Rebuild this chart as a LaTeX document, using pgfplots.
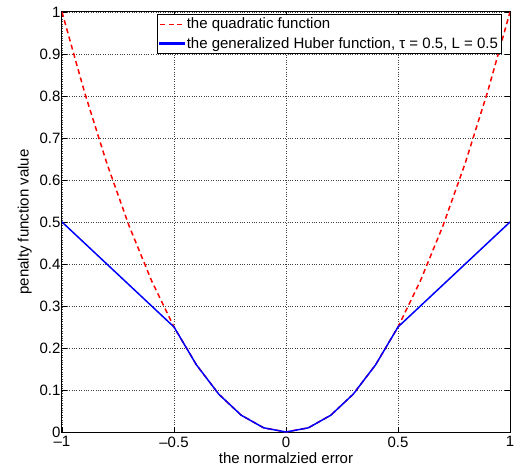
\documentclass[border=0pt]{standalone}
\usepackage{fontspec}
\setmainfont{Liberation Sans}
\usepackage{pgfplots}
\pgfplotsset{compat=1.18}
\definecolor{mred}{RGB}{255,0,0}
\definecolor{mblue}{RGB}{0,0,255}
\begin{document}
\begin{tikzpicture}
\useasboundingbox (-62pt,-34pt) rectangle (454pt,432pt);
\begin{axis}[
    at={(0,0)}, anchor=south west,
    scale only axis,
    width=448pt, height=420pt,
    xmin=-1, xmax=1, ymin=0, ymax=1,
    xtick={-1,-0.5,0,0.5,1},
    xticklabels={\textendash1,\textendash0.5,0,0.5,1},
    ytick={0,0.1,...,1},
    yticklabels={0,0.1,0.2,0.3,0.4,0.5,0.6,0.7,0.8,0.9,1},
    tick align=inside,
    major tick length=5pt,
    tick style={black, line width=0.6pt},
    grid=major,
    major grid style={black!75, dotted, line width=0.6pt},
    axis line style={black, line width=1pt},
    font=\fontsize{15}{17}\selectfont,
    yticklabel style={xshift=2pt},
    xticklabel style={yshift=-1pt},
    xlabel={the normalzied error},
    ylabel={penalty function value},
    xlabel style={yshift=1pt},
    ylabel style={yshift=1pt},
    legend style={at={(0.982,0.995)}, anchor=north east,
        draw=black, text=black, line width=1pt, font=\fontsize{15}{17}\selectfont,
        inner sep=1.5pt, row sep=3pt},
    legend cell align=left,
]
\addplot[draw=mred, dash pattern=on 5pt off 3.5pt, line width=1.5pt,
    legend image code/.code={\draw[mred, dash pattern=on 5pt off 3.5pt, line width=1.5pt] (0pt,0pt) -- (24pt,0pt);}]
coordinates {
(-1,1) (-0.9,0.81) (-0.8,0.64) (-0.7,0.49) (-0.6,0.36) (-0.5,0.25)
(-0.4,0.16) (-0.3,0.09) (-0.2,0.04) (-0.1,0.01) (0,0)
(0.1,0.01) (0.2,0.04) (0.3,0.09) (0.4,0.16) (0.5,0.25)
(0.6,0.36) (0.7,0.49) (0.8,0.64) (0.9,0.81) (1,1)};
\addplot[draw=mblue, line width=1.5pt,
    legend image code/.code={\fill[mblue] (0pt,-0.5pt) rectangle (24pt,0.5pt);}]
coordinates {
(-1,0.5) (-0.9,0.45) (-0.8,0.4) (-0.7,0.35) (-0.6,0.3) (-0.5,0.25)
(-0.4,0.16) (-0.3,0.09) (-0.2,0.04) (-0.1,0.01) (0,0)
(0.1,0.01) (0.2,0.04) (0.3,0.09) (0.4,0.16) (0.5,0.25)
(0.6,0.3) (0.7,0.35) (0.8,0.4) (0.9,0.45) (1,0.5)};
\legend{the quadratic function, {the generalized Huber function, τ = 0.5, L = 0.5}}
\end{axis}
\end{tikzpicture}
\end{document}
